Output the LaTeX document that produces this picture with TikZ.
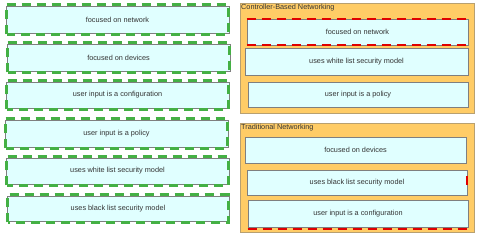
\documentclass[tikz,border=0pt]{standalone}
\usepackage{fontspec}
\setmainfont{Liberation Sans}
\definecolor{cellfill}{HTML}{E0FFFF}
\definecolor{cellline}{HTML}{7F7F7F}
\definecolor{grpfill}{HTML}{FFCC66}
\definecolor{grpline}{HTML}{B8A070}
\definecolor{dashgreen}{HTML}{44B044}
\definecolor{dashred}{HTML}{E00000}
\definecolor{txt}{HTML}{333333}
\begin{document}
\begin{tikzpicture}[x=1pt,y=-1pt,
  cellbox/.style={draw=cellline, line width=0.9pt, fill=cellfill, inner sep=0pt,
    font=\fontsize{7.3}{8}\selectfont, text=txt},
  greendash/.style={draw=dashgreen, line width=2.2pt, dash pattern=on 9pt off 6pt},
  reddash/.style={draw=dashred, line width=2pt, dash pattern=on 9pt off 6pt},
  groupbox/.style={draw=grpline, line width=0.9pt, fill=grpfill, inner sep=0pt},
  grouplabel/.style={anchor=north west, inner sep=0pt, font=\fontsize{7.3}{8}\selectfont, text=txt}]
\useasboundingbox (0,0) rectangle (477,240);
\fill[white] (0,0) rectangle (477,240);
% left column
\node[cellbox, minimum width=223pt, minimum height=27pt] (l1) at (117.5,19.5) {focused on network};
\node[cellbox, minimum width=223pt, minimum height=27pt] (l2) at (118.5,57.5) {focused on devices};
\node[cellbox, minimum width=223pt, minimum height=26pt] (l3) at (117.5,95) {user input is a configuration};
\node[cellbox, minimum width=223pt, minimum height=27pt] (l4) at (116.5,133.5) {user input is a policy};
\node[cellbox, minimum width=223pt, minimum height=26pt] (l5) at (117.5,171) {uses white list security model};
\node[cellbox, minimum width=222pt, minimum height=25pt] (l6) at (118,208.5) {uses black list security model};
\foreach \n in {l1,l2,l3,l4,l5,l6}
  \draw[greendash] ([shift={(1pt,-1pt)}]\n.south west) rectangle ([shift={(-1pt,1pt)}]\n.north east);
% controller-based group
\node[groupbox, minimum width=234pt, minimum height=110pt] (cg) at (357,58) {};
\node[grouplabel] (cgl) at (241,4.5) {Controller-Based Networking};
\node[cellbox, minimum width=221pt, minimum height=26pt] (c1) at (357.5,32) {focused on network};
\node[cellbox, minimum width=223pt, minimum height=27pt] (c2) at (356.5,61.5) {uses white list security model};
\node[cellbox, minimum width=220pt, minimum height=25pt] (c3) at (358,94.5) {user input is a policy};
\draw[reddash] (c1.north west) -- (c1.north east);
\draw[reddash] (c1.south west) -- (c1.south east);
% traditional group
\node[groupbox, minimum width=234pt, minimum height=109pt] (tg) at (357,177.5) {};
\node[grouplabel] (tgl) at (241,124.5) {Traditional Networking};
\node[cellbox, minimum width=221pt, minimum height=26pt] (t1) at (355.5,150) {focused on devices};
\node[cellbox, minimum width=220pt, minimum height=25pt] (t2) at (357,182.5) {uses black list security model};
\node[cellbox, minimum width=220pt, minimum height=27pt] (t3) at (358,213.5) {user input is a configuration};
\draw[draw=dashred, line width=2pt] ([yshift=-6pt]t2.north east) -- ([yshift=10pt]t2.south east);
\draw[reddash] ([yshift=-1.5pt]t3.south west) -- ([yshift=-1.5pt]t3.south east);
\end{tikzpicture}
\end{document}
